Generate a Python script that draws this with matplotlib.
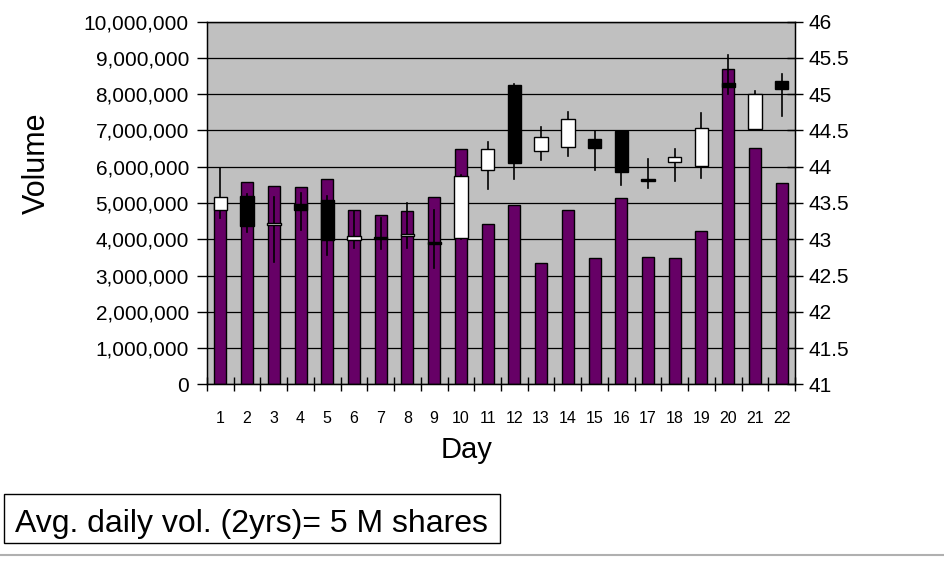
import matplotlib
matplotlib.use("Agg")
import matplotlib.pyplot as plt
import numpy as np
from matplotlib.patches import Rectangle
from matplotlib.ticker import FuncFormatter

plt.rcParams['font.family'] = ['Liberation Sans', 'DejaVu Sans']

days = list(range(1, 23))
volume = [5000000, 5580000, 5470000, 5440000, 5660000, 4810000, 4670000, 4780000,
          5170000, 6490000, 4420000, 4950000, 3350000, 4800000, 3480000, 5150000,
          3500000, 3480000, 4220000, 8700000, 6520000, 5550000]
opens = [43.40, 43.59, 43.19, 43.48, 43.54, 42.99, 43.03, 43.04, 42.96, 43.02, 43.96,
         45.13, 44.22, 44.27, 44.38, 44.49, 43.83, 44.07, 44.01, 45.16, 44.52, 45.18]
closes = [43.58, 43.18, 43.23, 43.41, 42.99, 43.05, 43.01, 43.07, 42.94, 43.87, 44.25,
          44.05, 44.41, 44.66, 44.26, 43.93, 43.81, 44.13, 44.54, 45.10, 45.00, 45.07]
highs = [43.98, 43.62, 43.58, 43.64, 43.60, 43.39, 43.30, 43.50, 43.40, 43.88, 44.34,
         45.14, 44.55, 44.76, 44.49, 44.49, 44.11, 44.25, 44.74, 45.54, 45.04, 45.28]
lows = [43.30, 43.10, 42.69, 43.13, 42.78, 42.88, 42.87, 42.88, 42.60, 43.00, 43.69,
        43.83, 44.09, 44.15, 43.96, 43.75, 43.71, 43.81, 43.85, 45.00, 44.50, 44.70]
note = "Avg. daily vol. (2yrs)= 5 M shares"

fig = plt.figure(figsize=(9.44, 5.63), dpi=100)
ax = fig.add_axes([207 / 944, 1 - 384.3 / 563, (795 - 207) / 944, (384.3 - 21.7) / 563])
ax.set_facecolor('#c0c0c0')
ax.bar(days, volume, width=0.45, color='#660066', edgecolor='black', linewidth=1.0, zorder=2)
ax.set_ylim(0, 10000000)
ax.set_yticks(np.arange(0, 10000001, 1000000))
ax.yaxis.set_major_formatter(FuncFormatter(lambda v, p: f"{int(v):,}"))
ax.grid(axis='y', color='black', linewidth=0.9, zorder=1)
ax.set_axisbelow(True)
ax.set_xlim(0.5, 22.5)
ax.set_xticks(np.arange(0.5, 23, 1))
ax.set_xticklabels([])
ax.set_xticks(days, minor=True)
ax.set_xticklabels([str(d) for d in days], minor=True, fontsize=11.5)
ax.tick_params(axis='x', which='major', direction='inout', length=10, width=1)
ax.tick_params(axis='x', which='minor', length=0, pad=19)
ax.tick_params(axis='y', direction='out', length=7, width=1, labelsize=15, pad=6)
for s in ax.spines.values():
    s.set_linewidth(1.0)

# axis titles placed where the reference has them (not centred on the axes)
fig.text(37 / 944, 1 - 163 / 563, "Volume", fontsize=22, rotation=90, ha='center', va='center')
fig.text(467 / 944, 1 - 458 / 563, "Day", fontsize=21, ha='center', va='baseline')

ax2 = ax.twinx()
ax2.set_ylim(41, 46)
ax2.set_yticks(np.arange(41, 46.01, 0.5))
ax2.yaxis.set_major_formatter(FuncFormatter(lambda v, p: f"{v:g}"))
ax2.tick_params(axis='y', direction='inout', length=12, width=1, labelsize=15, pad=4)
for d, o, c, h, l in zip(days, opens, closes, highs, lows):
    ax2.plot([d, d], [l, h], color='black', linewidth=1.2, zorder=3)
    lo, hi = min(o, c), max(o, c)
    fc = 'white' if c > o else 'black'
    ax2.add_patch(Rectangle((d - 0.25, lo), 0.5, max(hi - lo, 0.02), facecolor=fc,
                            edgecolor='black', linewidth=1.0, zorder=4))

# note box
fig.add_artist(Rectangle((4 / 944, 1 - 543 / 563), 496 / 944, 49 / 563, transform=fig.transFigure,
                         facecolor='white', edgecolor='black', linewidth=1))
fig.text(15 / 944, 1 - 532 / 563, note, fontsize=23, va='baseline', ha='left')
fig.add_artist(plt.Line2D([0, 1], [1 - 555 / 563, 1 - 555 / 563], color='#b0b0b0', linewidth=1.5))

fig.savefig("out.png", dpi=100)
